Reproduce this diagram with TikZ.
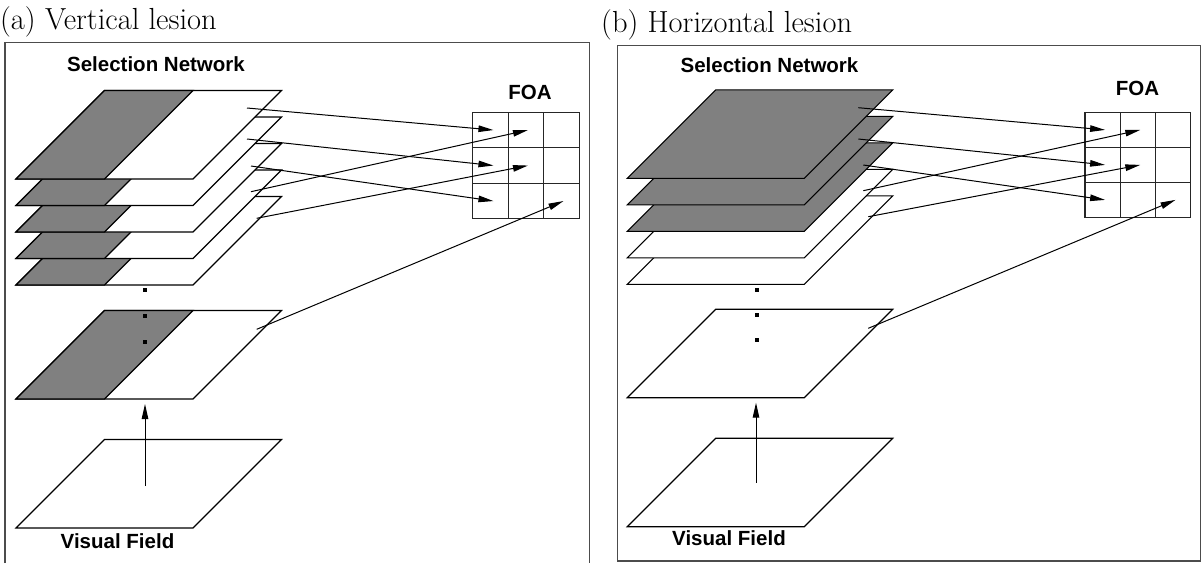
\documentclass[tikz,border=0pt]{standalone}
\usepackage{fontspec}
\newfontfamily\labelfont{Liberation Sans}
\usetikzlibrary{arrows.meta}

% a layer of the network: parallelogram given by its lower left corner
\newcommand\layerplane[3][plane]{%
  \draw[#1] (#2,#3) -- ++(177,0) -- ++(88.5,-88.5) -- ++(-177,0) -- cycle;}
% a layer whose left half is lesioned
\newcommand\halflesion[2]{%
  \layerplane{#1}{#2}%
  \draw[lesion] (#1,#2) -- ++(88.5,0) -- ++(88.5,-88.5) -- ++(-88.5,0) -- cycle;}

\begin{document}
\begin{tikzpicture}[x=1pt,y=-1pt,
  plane/.style={draw=black, line width=1.1pt, fill=white},
  lesion/.style={draw=black, line width=1.1pt, fill=black!50},
  link/.style={line width=1pt, -{Triangle[length=15pt,width=6.5pt]}},
  frame/.style={draw=black!70, line width=1.4pt},
  cell/.style={draw=black!85, line width=1.1pt, minimum size=#1, inner sep=0pt, outer sep=0pt, anchor=north west},
  sflabel/.style={font=\labelfont\bfseries\fontsize{20.5}{24}\selectfont, inner sep=0pt, anchor=base},
  title/.style={font=\fontsize{30.5}{36}\selectfont, inner sep=0pt, anchor=base west},
  dot/.style={fill=black, minimum size=4pt, inner sep=0pt}
]
\useasboundingbox (0,0) rectangle (1204,563);

% ---------------- (a) vertical lesion ----------------
\node[title] (ta) at (0,29.5) {(a) Vertical lesion};
\draw[frame] (5,563) -- (5,42.7) -- (589.3,42.7) -- (589.3,563);
\node[sflabel] (sna) at (156,71) {Selection Network};
\node[sflabel] (foaa) at (530,99) {FOA};
\node[sflabel] (vfa) at (117.5,548) {Visual Field};

\layerplane{16}{528}
\halflesion{16}{399}
\foreach \yb in {285,258.5,232,205.5,179} {\halflesion{16}{\yb}}
\foreach \yd [count=\i] in {290,316,342} {\node[dot] (da\i) at (145,\yd) {};}

\coordinate (vfa-src) at (145,486);
\coordinate (sna-dst) at (145,404);
\draw[link] (vfa-src) -- (sna-dst);

\foreach \r in {1,2,3} \foreach \c in {1,2,3}
  \node[cell=35.5pt] (fa\r\c) at ({472.7+35.5*(\c-1)},{112.3+35.5*(\r-1)}) {};

\coordinate (sa1) at (247,108);
\coordinate (sa2) at (247,139);
\coordinate (sa3) at (251,166);
\coordinate (sa4) at (251,191.7);
\coordinate (sa5) at (256.7,218.3);
\coordinate (sa6) at (256.7,329.3);
\draw[link] (sa1) -- ([xshift=3pt]fa11.center);
\draw[link] (sa2) -- ([xshift=3pt]fa21.center);
\draw[link] (sa3) -- ([xshift=3pt]fa31.center);
\draw[link] (sa4) -- ([xshift=2pt]fa12.center);
\draw[link] (sa5) -- ([xshift=2pt]fa22.center);
\draw[link] (sa6) -- ([xshift=2pt]fa33.center);

% ---------------- (b) horizontal lesion ----------------
\node[title] (tb) at (601,32.5) {(b) Horizontal lesion};
\draw[frame] (617.3,45.3) rectangle (1200.7,561);
\node[sflabel] (snb) at (769.5,72.5) {Selection Network};
\node[sflabel] (foab) at (1137.5,95) {FOA};
\node[sflabel] (vfb) at (729,545) {Visual Field};

\layerplane{627.3}{526.7}
\layerplane{627.3}{397.7}
\layerplane{627.3}{284.3}
\layerplane{627.3}{257.8}
\foreach \yb in {231.3,204.8,178.3} {\layerplane[lesion]{627.3}{\yb}}
\foreach \yd [count=\i] in {289.5,314.5,339.5} {\node[dot] (db\i) at (756.5,\yd) {};}

\coordinate (vfb-src) at (756,482.7);
\coordinate (snb-dst) at (756,402.7);
\draw[link] (vfb-src) -- (snb-dst);

\foreach \r in {1,2,3} \foreach \c in {1,2,3}
  \node[cell=35.2pt] (fb\r\c) at ({1085+35.2*(\c-1)},{112.3+35*(\r-1)}) {};

\coordinate (sb1) at (858.3,107.7);
\coordinate (sb2) at (858.3,139);
\coordinate (sb3) at (863.3,165);
\coordinate (sb4) at (863.3,190.7);
\coordinate (sb5) at (868.3,216.7);
\coordinate (sb6) at (868.3,328.3);
\draw[link] (sb1) -- ([xshift=2.5pt]fb11.center);
\draw[link] (sb2) -- ([xshift=2.5pt]fb21.center);
\draw[link] (sb3) -- ([xshift=2.5pt]fb31.center);
\draw[link] (sb4) -- ([xshift=2.5pt]fb12.center);
\draw[link] (sb5) -- ([xshift=2.5pt]fb22.center);
\draw[link] (sb6) -- ([xshift=2.5pt]fb33.center);
\end{tikzpicture}
\end{document}
